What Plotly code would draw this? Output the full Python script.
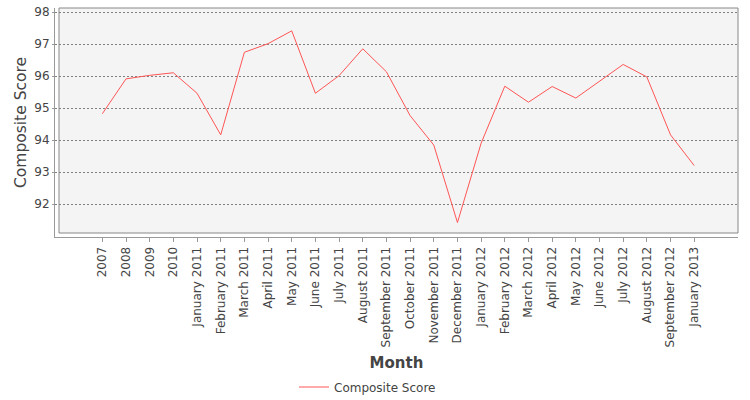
import plotly.graph_objects as go

months = ["2007", "2008", "2009", "2010", "January 2011", "February 2011", "March 2011",
          "April 2011", "May 2011", "June 2011", "July 2011", "August 2011",
          "September 2011", "October 2011", "November 2011", "December 2011",
          "January 2012", "February 2012", "March 2012", "April 2012", "May 2012",
          "June 2012", "July 2012", "August 2012", "September 2012", "January 2013"]
composite_score = [94.83, 95.92, 96.03, 96.11, 95.47, 94.17, 96.75, 97.02, 97.42, 95.47,
                   96.02, 96.86, 96.14, 94.77, 93.85, 91.43, 93.91, 95.69, 95.19, 95.68,
                   95.32, 95.85, 96.37, 95.98, 94.17, 93.21]

FONT = "DejaVu Sans"
TXT = "#444444"

fig = go.Figure()
fig.add_trace(go.Scatter(
    x=list(range(len(months))), y=composite_score, mode="lines",
    name="Composite Score", line=dict(color="#ff5555", width=1),
))

fig.update_layout(
    width=750, height=400,
    margin=dict(l=55, r=12, t=8, b=163, autoexpand=False),
    paper_bgcolor="white", plot_bgcolor="white",
    font=dict(family=FONT, size=12, color=TXT),
    showlegend=True,
    legend=dict(orientation="h", xref="container", yref="container",
                x=0.49, xanchor="center", y=1 - 387 / 400, yanchor="middle",
                font=dict(family=FONT, size=12, color=TXT)),
    shapes=[dict(type="rect", xref="paper", yref="paper", layer="below",
                 x0=4 / 683, x1=1, y0=4 / 229, y1=1,
                 fillcolor="#f4f4f4", line=dict(color="#888888", width=1))],
)
fig.update_xaxes(
    range=[-2.0, 26.85], tickmode="array", tickvals=list(range(len(months))),
    ticktext=months, tickangle=-90, showgrid=False, zeroline=False,
    showline=True, linecolor="#999999", linewidth=1, automargin=False,
    ticks="outside", ticklen=4, tickcolor="#999999",
    tickfont=dict(family=FONT, size=12, color=TXT),
    title=dict(text="<b>Month</b>", font=dict(family=FONT, size=15, color=TXT), standoff=14),
)
fig.update_yaxes(
    range=[90.978, 98.134], tickmode="array", tickvals=[92, 93, 94, 95, 96, 97, 98],
    showgrid=True, gridcolor="#808080", griddash="2px,2px", gridwidth=1,
    zeroline=False, showline=True, linecolor="#999999", linewidth=1, automargin=False,
    ticks="outside", ticklen=2, tickcolor="#999999",
    tickfont=dict(family=FONT, size=12, color=TXT),
    title=dict(text="Composite Score", font=dict(family=FONT, size=15.5, color=TXT), standoff=3),
)
fig.write_html("out.html")
